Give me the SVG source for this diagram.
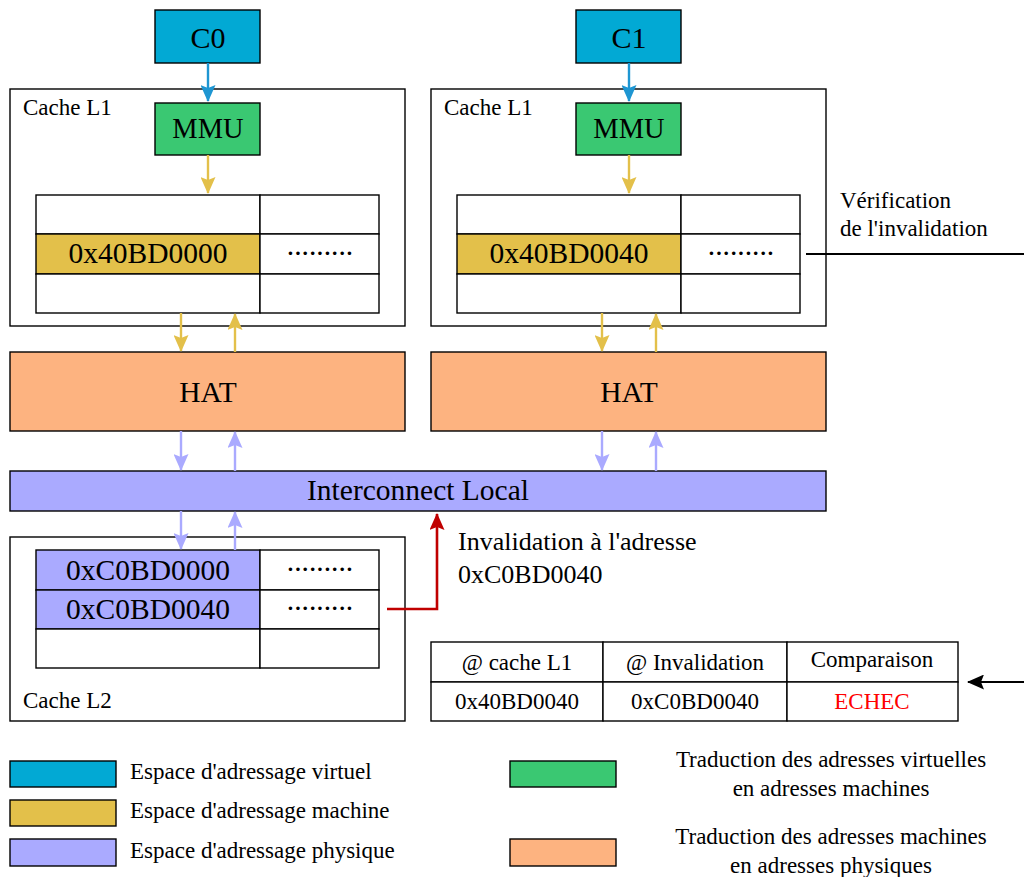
<svg xmlns="http://www.w3.org/2000/svg" width="1024" height="877" viewBox="0 0 1024 877">
<style>
text{font-family:"Liberation Serif","Times New Roman",serif;fill:#000}
.big{font-size:29.5px;text-anchor:middle}
.mmut{font-size:28.5px;text-anchor:middle}
.core{font-size:30px;text-anchor:middle}
.mid{font-size:26px}
.sm{font-size:23px}
.smc{font-size:23px;text-anchor:middle}
.box{stroke:#000;stroke-width:1.4}
.frame{fill:none;stroke:#000;stroke-width:1.4}
.cell{fill:#fff;stroke:#000;stroke-width:1.4}
.virt{fill:#02a9d4}
.mmu{fill:#3ac872}
.mach{fill:#e3c04a}
.hat{fill:#fdb380}
.phys{fill:#aaaaff}
.ab{stroke:#1e96d2;stroke-width:2.4;fill:none}
.ay{stroke:#e3c04a;stroke-width:2.4;fill:none}
.ap{stroke:#aaaaff;stroke-width:2.4;fill:none}
.ar{stroke:#c00000;stroke-width:2.6;fill:none}
.ak{stroke:#000;stroke-width:2.2;fill:none}
</style>
<defs>
<marker id="mb" markerWidth="17" markerHeight="15" refX="16" refY="7.5" orient="auto" markerUnits="userSpaceOnUse"><path d="M0,0 L17,7.5 L0,15 L3,7.5 Z" fill="#1e96d2"/></marker>
<marker id="my" markerWidth="17" markerHeight="15" refX="16" refY="7.5" orient="auto" markerUnits="userSpaceOnUse"><path d="M0,0 L17,7.5 L0,15 L3,7.5 Z" fill="#e3c04a"/></marker>
<marker id="mp" markerWidth="17" markerHeight="15" refX="16" refY="7.5" orient="auto" markerUnits="userSpaceOnUse"><path d="M0,0 L17,7.5 L0,15 L3,7.5 Z" fill="#aaaaff"/></marker>
<marker id="mr" markerWidth="17" markerHeight="15" refX="16" refY="7.5" orient="auto" markerUnits="userSpaceOnUse"><path d="M0,0 L17,7.5 L0,15 L3,7.5 Z" fill="#c00000"/></marker>
<marker id="mk" markerWidth="17" markerHeight="15" refX="16" refY="7.5" orient="auto" markerUnits="userSpaceOnUse"><path d="M0,0 L17,7.5 L0,15 L3,7.5 Z" fill="#000"/></marker>
</defs>
<rect width="1024" height="877" fill="#fff"/>

<g id="cacheL1-left">
<rect class="frame" x="10" y="89" width="395" height="237"/>
<text class="sm" x="23" y="115">Cache L1</text>
<rect class="cell" x="36" y="195" width="224" height="39"/>
<rect class="cell" x="260" y="195" width="119" height="39"/>
<rect class="box mach" x="36" y="234" width="224" height="40"/>
<rect class="cell" x="260" y="234" width="119" height="40"/>
<rect class="cell" x="36" y="274" width="224" height="39"/>
<rect class="cell" x="260" y="274" width="119" height="39"/>
<text class="big" x="148" y="263">0x40BD0000</text>
<text class="big" x="320" y="255">.........</text>
</g>
<g id="c0"><rect class="box virt" x="155" y="10" width="105" height="53"/><text class="core" x="208" y="48">C0</text></g>
<g id="mmu0"><rect class="box mmu" x="155" y="103" width="105" height="52"/><text class="mmut" x="208" y="138">MMU</text></g>

<g id="cacheL1-right">
<rect class="frame" x="431" y="89" width="395" height="237"/>
<text class="sm" x="444" y="115">Cache L1</text>
<rect class="cell" x="457" y="195" width="224" height="39"/>
<rect class="cell" x="681" y="195" width="119" height="39"/>
<rect class="box mach" x="457" y="234" width="224" height="40"/>
<rect class="cell" x="681" y="234" width="119" height="40"/>
<rect class="cell" x="457" y="274" width="224" height="39"/>
<rect class="cell" x="681" y="274" width="119" height="39"/>
<text class="big" x="569" y="263">0x40BD0040</text>
<text class="big" x="741" y="255">.........</text>
</g>
<g id="c1"><rect class="box virt" x="576" y="10" width="105" height="53"/><text class="core" x="629" y="48">C1</text></g>
<g id="mmu1"><rect class="box mmu" x="576" y="103" width="105" height="52"/><text class="mmut" x="629" y="138">MMU</text></g>

<g id="hat0"><rect class="box hat" x="10" y="352" width="395" height="79"/><text class="big" x="208" y="402">HAT</text></g>
<g id="hat1"><rect class="box hat" x="431" y="352" width="395" height="79"/><text class="big" x="629" y="402">HAT</text></g>

<g id="interconnect"><rect class="box phys" x="10" y="471" width="816" height="40"/><text class="big" x="418" y="500">Interconnect Local</text></g>

<g id="cacheL2">
<rect class="frame" x="10" y="537" width="395" height="184"/>
<rect class="box phys" x="36" y="550" width="224" height="40"/>
<rect class="cell" x="260" y="550" width="119" height="40"/>
<rect class="box phys" x="36" y="590" width="224" height="39"/>
<rect class="cell" x="260" y="590" width="119" height="39"/>
<rect class="cell" x="36" y="629" width="224" height="39"/>
<rect class="cell" x="260" y="629" width="119" height="39"/>
<text class="big" x="148" y="580">0xC0BD0000</text>
<text class="big" x="148" y="619">0xC0BD0040</text>
<text class="big" x="320" y="571">.........</text>
<text class="big" x="320" y="610">.........</text>
<text class="sm" x="23" y="708">Cache L2</text>
</g>

<g id="invalidation-label">
<text class="mid" x="458" y="550">Invalidation à l'adresse</text>
<text class="mid" x="458" y="583">0xC0BD0040</text>
</g>

<g id="verification-label">
<text class="sm" x="840" y="208">Vérification</text>
<text class="sm" x="840" y="236">de l'invalidation</text>
</g>

<g id="comparison-table">
<rect class="cell" x="431" y="642" width="172" height="40"/>
<rect class="cell" x="603" y="642" width="184" height="40"/>
<rect class="cell" x="787" y="642" width="171" height="40"/>
<rect class="cell" x="431" y="682" width="172" height="39"/>
<rect class="cell" x="603" y="682" width="184" height="39"/>
<rect class="cell" x="787" y="682" width="171" height="39"/>
<text class="smc" x="517" y="670">@ cache L1</text>
<text class="smc" x="695" y="670">@ Invalidation</text>
<text class="smc" x="872" y="667">Comparaison</text>
<text class="smc" x="517" y="709">0x40BD0040</text>
<text class="smc" x="695" y="709">0xC0BD0040</text>
<text class="smc" x="872" y="709" style="fill:#ff0000">ECHEC</text>
</g>

<g id="connectors">
<line class="ab" x1="208" y1="63" x2="208" y2="101" marker-end="url(#mb)"/>
<line class="ab" x1="629" y1="63" x2="629" y2="101" marker-end="url(#mb)"/>
<line class="ay" x1="208" y1="155" x2="208" y2="193" marker-end="url(#my)"/>
<line class="ay" x1="629" y1="155" x2="629" y2="193" marker-end="url(#my)"/>
<line class="ay" x1="181" y1="313" x2="181" y2="351" marker-end="url(#my)"/>
<line class="ay" x1="235" y1="352" x2="235" y2="314" marker-end="url(#my)"/>
<line class="ay" x1="602" y1="313" x2="602" y2="351" marker-end="url(#my)"/>
<line class="ay" x1="656" y1="352" x2="656" y2="314" marker-end="url(#my)"/>
<line class="ap" x1="181" y1="431" x2="181" y2="470" marker-end="url(#mp)"/>
<line class="ap" x1="235" y1="471" x2="235" y2="432" marker-end="url(#mp)"/>
<line class="ap" x1="602" y1="431" x2="602" y2="470" marker-end="url(#mp)"/>
<line class="ap" x1="656" y1="471" x2="656" y2="432" marker-end="url(#mp)"/>
<line class="ap" x1="181" y1="511" x2="181" y2="549" marker-end="url(#mp)"/>
<line class="ap" x1="235" y1="550" x2="235" y2="512" marker-end="url(#mp)"/>
<polyline class="ar" points="387,609 437,609 437,514" marker-end="url(#mr)"/>
<line class="ak" x1="806" y1="254" x2="1024" y2="254"/>
<line class="ak" x1="1024" y1="682" x2="968" y2="682" marker-end="url(#mk)"/>
</g>

<g id="legend">
<rect class="box virt" x="10" y="761" width="106" height="26"/>
<rect class="box mach" x="10" y="800" width="106" height="26"/>
<rect class="box phys" x="10" y="839" width="106" height="27"/>
<rect class="box mmu" x="510" y="761" width="106" height="26"/>
<rect class="box hat" x="510" y="839" width="106" height="27"/>
<text class="sm" x="130" y="779">Espace d'adressage virtuel</text>
<text class="sm" x="130" y="818">Espace d'adressage machine</text>
<text class="sm" x="130" y="858">Espace d'adressage physique</text>
<text class="smc" x="831" y="767">Traduction des adresses virtuelles</text>
<text class="smc" x="831" y="796">en adresses machines</text>
<text class="smc" x="831" y="844">Traduction des adresses machines</text>
<text class="smc" x="831" y="873">en adresses physiques</text>
</g>
</svg>
